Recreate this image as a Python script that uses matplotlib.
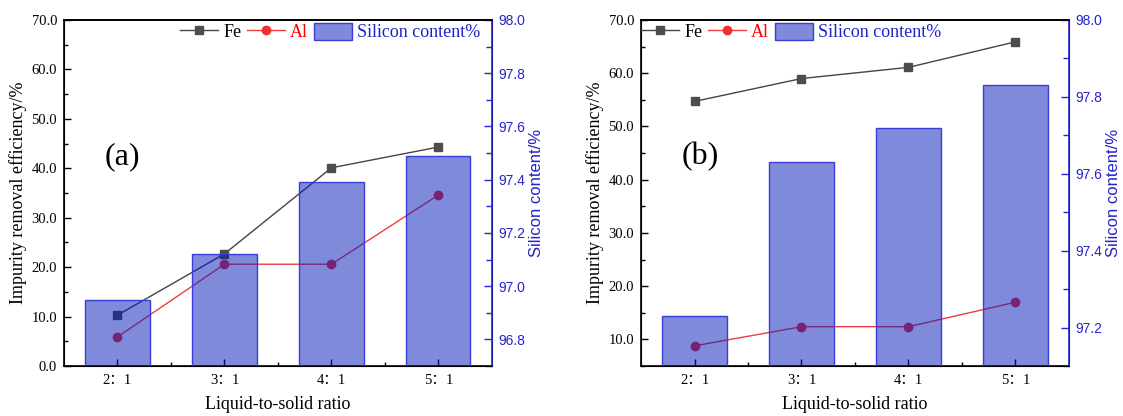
import matplotlib
matplotlib.use("Agg")
import matplotlib.pyplot as plt
from matplotlib.ticker import FixedLocator, MultipleLocator, FormatStrFormatter

plt.rcParams['font.family'] = ['Liberation Serif', 'Noto Sans CJK SC']

# datos
categorias = ['2：1', '3：1', '4：1', '5：1']
fe_a = [10.3, 22.7, 40.1, 44.3]
al_a = [5.9, 20.6, 20.6, 34.6]
si_a = [96.95, 97.12, 97.39, 97.49]
fe_b = [54.7, 59.0, 61.1, 65.9]
al_b = [8.8, 12.4, 12.4, 17.0]
si_b = [97.23, 97.63, 97.72, 97.83]

AZUL = '#2424c8'
BARRA = (0.0, 0.09, 0.72, 0.5)


def panel(ax, fe, al, si, letra, ylim_izq, ylim_der, ticks_izq, ticks_der, ley_x):
    x = list(range(len(categorias)))
    ax.plot(x, fe, color='#444444', lw=1.0, marker='s', ms=5.5, mfc='#4d4d4d', mec='#4d4d4d', label='Fe')
    ax.plot(x, al, color='#f03c3c', lw=1.0, marker='o', ms=6, mfc='#f03030', mec='#f03030', label='Al')
    ax.set_xlim(-0.5, len(categorias) - 0.5)
    ax.set_ylim(*ylim_izq)
    ax.set_yticks(ticks_izq)
    ax.yaxis.set_minor_locator(MultipleLocator(5))
    ax.yaxis.set_major_formatter(FormatStrFormatter('%.1f'))
    ax.set_xticks(x)
    ax.set_xticklabels(categorias)
    ax.xaxis.set_minor_locator(FixedLocator([0.5, 1.5, 2.5]))
    ax.tick_params(axis='both', which='both', direction='in', labelsize=10.5, pad=5)
    ax.tick_params(axis='both', which='major', length=5, width=1)
    ax.tick_params(axis='both', which='minor', length=3, width=1)
    ax.tick_params(axis='x', pad=6)
    ax.set_xlabel('Liquid-to-solid ratio', fontsize=13, labelpad=6)
    ax.set_ylabel('Impurity removal efficiency/%', fontsize=13, labelpad=3)
    for s in ['left', 'bottom', 'top']:
        ax.spines[s].set_linewidth(1.2)

    ax2 = ax.twinx()
    ax2.bar(x, si, width=0.6, facecolor=BARRA, edgecolor='#3c3cd8', linewidth=1.0,
            label='Silicon content%')
    ax2.set_ylim(*ylim_der)
    ax2.set_yticks(ticks_der)
    ax2.yaxis.set_minor_locator(MultipleLocator(0.1))
    ax2.yaxis.set_major_formatter(FormatStrFormatter('%.1f'))
    ax2.tick_params(axis='y', which='both', direction='in', colors=AZUL, labelsize=10, width=1, pad=4.5)
    ax2.tick_params(axis='y', which='major', length=6)
    ax2.tick_params(axis='y', which='minor', length=4)
    for t in ax2.get_yticklabels():
        t.set_family('Liberation Sans')
    ax2.spines['right'].set_color(AZUL)
    ax2.spines['right'].set_linewidth(1.2)
    ax2.spines['top'].set_linewidth(1.2)
    ax2.set_ylabel('Silicon content/%', fontsize=12, color=AZUL, family='Liberation Sans', labelpad=3)

    h1, l1 = ax.get_legend_handles_labels()
    h2, l2 = ax2.get_legend_handles_labels()
    ley = ax2.legend(h1 + h2, l1 + l2, ncol=3, frameon=False, fontsize=13,
                     loc='center left', bbox_to_anchor=(ley_x, 0.965),
                     borderaxespad=0, borderpad=0, handlelength=2.1, handleheight=1.1,
                     handletextpad=0.3, columnspacing=0.3)
    colores = ['black', 'red', '#2020cc']
    for t, c in zip(ley.get_texts(), colores):
        t.set_color(c)

    ax.text(0.094, 0.604, letra, transform=ax.transAxes, fontsize=23, va='center', ha='left')


fig = plt.figure(figsize=(11.23, 4.16), dpi=100)
ax_a = fig.add_axes([0.0570, 0.120, 0.3810, 0.832])
ax_b = fig.add_axes([0.5708, 0.120, 0.3811, 0.832])

panel(ax_a, fe_a, al_a, si_a, '(a)', (0, 70), (96.7, 98.0),
      [0, 10, 20, 30, 40, 50, 60, 70], [96.8, 97.0, 97.2, 97.4, 97.6, 97.8, 98.0], 0.271)
panel(ax_b, fe_b, al_b, si_b, '(b)', (5, 70), (97.1, 98.0),
      [10, 20, 30, 40, 50, 60, 70], [97.2, 97.4, 97.6, 97.8, 98.0], 0.0)

fig.savefig('out.png', dpi=100)
